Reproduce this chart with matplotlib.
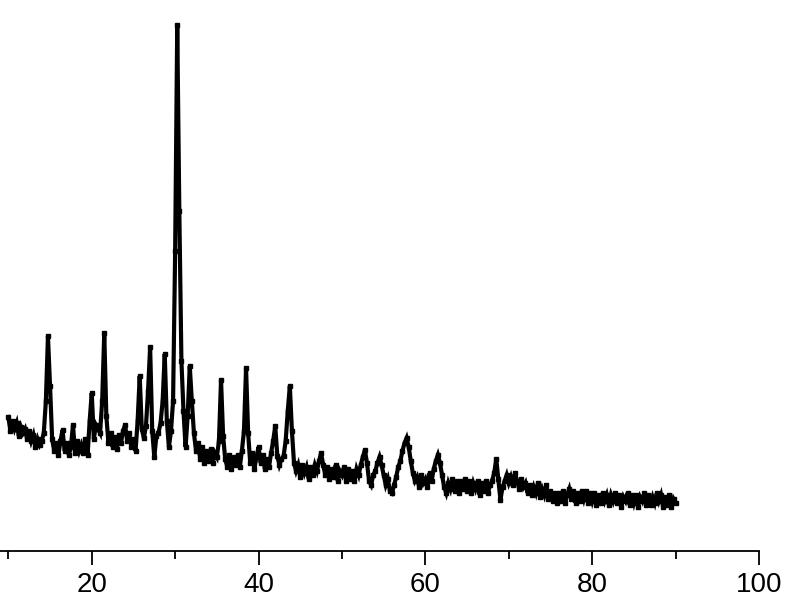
import numpy as np
import matplotlib.pyplot as plt

# 2theta grid (deg), 0.25 step from 10 to 90
two_theta = np.arange(10.0, 90.001, 0.25)

# intensity (a.u.), 4 values per degree
intensity = [
    134, 120, 130, 122,   # 10
    128, 115, 124, 118,   # 11
    122, 112, 120, 110,   # 12
    116, 104, 112, 106,   # 13
    110, 118, 150, 215,   # 14
    165, 112, 100, 108,   # 15
    96, 110, 121, 100,    # 16
    108, 96, 104, 126,    # 17
    98, 110, 100, 106,    # 18
    98, 112, 96, 130,     # 19
    158, 112, 126, 122,   # 20
    118, 150, 218, 135,   # 21
    108, 118, 104, 114,   # 22
    102, 116, 108, 120,   # 23
    126, 110, 118, 104,   # 24
    112, 100, 130, 175,   # 25
    122, 113, 125, 160,   # 26
    204, 120, 94, 115,    # 27
    118, 128, 150, 197,   # 28
    130, 104, 120, 150,   # 29
    300, 526, 340, 190,   # 30
    140, 104, 135, 185,   # 31
    150, 118, 100, 108,   # 32
    92, 104, 88, 100,     # 33
    90, 102, 88, 98,      # 34
    94, 110, 171, 115,    # 35
    92, 84, 96, 82,       # 36
    94, 86, 96, 84,       # 37
    100, 120, 183, 118,   # 38
    88, 98, 82, 94,       # 39
    104, 88, 96, 82,      # 40
    92, 84, 98, 110,      # 41
    125, 95, 86, 92,      # 42
    95, 110, 140, 165,    # 43
    120, 88, 80, 86,      # 44
    74, 86, 78, 84,       # 45
    72, 84, 76, 86,       # 46
    80, 90, 98, 86,       # 47
    76, 84, 72, 82,       # 48
    74, 86, 70, 80,       # 49
    76, 84, 70, 82,       # 50
    72, 80, 70, 82,       # 51
    76, 86, 94, 101,      # 52
    88, 70, 66, 76,       # 53
    80, 88, 94, 86,       # 54
    76, 66, 72, 60,       # 55
    58, 66, 74, 84,       # 56
    90, 100, 108, 113,    # 57
    104, 90, 78, 70,      # 58
    74, 64, 76, 68,       # 59
    72, 64, 78, 70,       # 60
    82, 90, 96, 88,       # 61
    76, 64, 58, 68,       # 62
    62, 72, 60, 70,       # 63
    58, 70, 62, 72,       # 64
    60, 70, 58, 68,       # 65
    62, 70, 56, 68,       # 66
    60, 70, 58, 66,       # 67
    70, 78, 92, 72,       # 68
    51, 64, 70, 76,       # 69
    68, 74, 66, 78,       # 70
    70, 62, 72, 64,       # 71
    68, 58, 66, 56,       # 72
    64, 58, 68, 54,       # 73
    62, 56, 66, 52,       # 74
    60, 50, 58, 48,       # 75
    58, 50, 60, 48,       # 76
    56, 62, 52, 60,       # 77
    48, 58, 50, 60,       # 78
    52, 60, 48, 58,       # 79
    50, 58, 46, 56,       # 80
    48, 58, 50, 56,       # 81
    46, 56, 50, 58,       # 82
    48, 56, 44, 54,       # 83
    50, 58, 46, 56,       # 84
    48, 56, 44, 54,       # 85
    50, 58, 46, 56,       # 86
    46, 54, 48, 58,       # 87
    50, 56, 44, 54,       # 88
    46, 56, 44, 52,       # 89
    48,                   # 90
]

major_ticks = [20, 40, 60, 80, 100]
minor_ticks = [10, 30, 50, 70, 90]

plt.rcParams['font.family'] = ['Liberation Sans', 'DejaVu Sans']

fig = plt.figure(figsize=(8.0, 6.14), dpi=100)
ax = fig.add_axes([0.0, 63 / 614, 759 / 800, 1 - 63 / 614])

# thick trace with small square markers, like the scanned plot
ax.plot(two_theta, intensity, color='black', lw=3.0, marker='s', ms=3.2,
        solid_joinstyle='miter')

ax.set_xlim(9.0, 100)
ax.set_ylim(0, 551)

for s in ['left', 'top', 'right']:
    ax.spines[s].set_visible(False)
ax.spines['bottom'].set_linewidth(1.3)

ax.set_xticks(major_ticks)
ax.set_xticks(minor_ticks, minor=True)
ax.set_yticks([])
ax.tick_params(axis='x', which='major', direction='out', length=10, width=1.3,
               labelsize=20, pad=5)
ax.tick_params(axis='x', which='minor', direction='out', length=5.8, width=1.3)

fig.savefig('out.png', dpi=100)
